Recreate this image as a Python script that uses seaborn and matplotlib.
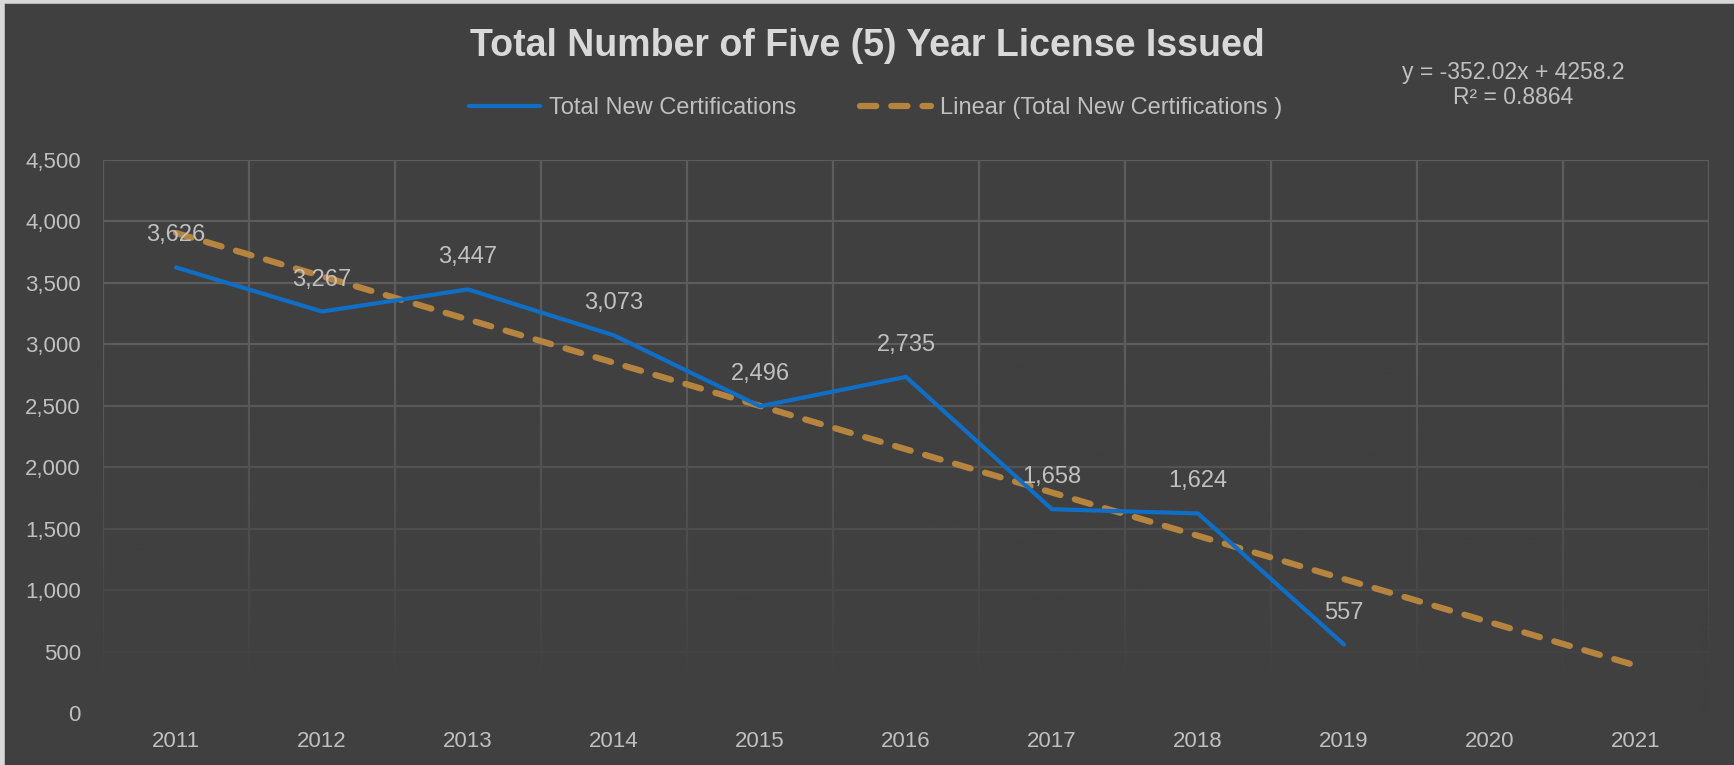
import matplotlib
matplotlib.use('Agg')
import matplotlib.pyplot as plt
import seaborn as sns
import numpy as np
import pandas as pd
from matplotlib.lines import Line2D
from matplotlib.ticker import FuncFormatter, MultipleLocator

# Data
years = [2011, 2012, 2013, 2014, 2015, 2016, 2017, 2018, 2019]
new_certs = [3626, 3267, 3447, 3073, 2496, 2735, 1658, 1624, 557]
trend_years = [2011, 2012, 2013, 2014, 2015, 2016, 2017, 2018, 2019, 2020, 2021]
trend_slope = -352.02
trend_intercept = 4258.2
r_squared = 0.8864

BG = '#404040'
GRID = '#5c5c5c'
TXT = '#c0c0c0'
BLUE = '#0f6fc6'
TAN = '#b5843e'

sns.set_theme(style='dark')
plt.rcParams['font.family'] = ['Liberation Sans', 'DejaVu Sans']

df = pd.DataFrame({'Year': years, 'Total': new_certs})
trend_df = pd.DataFrame({'Year': trend_years})
trend_df['Trend'] = trend_slope * (trend_df['Year'] - 2010) + trend_intercept

fig = plt.figure(figsize=(17.34, 7.65), dpi=100, facecolor=BG)
ax = fig.add_axes([103 / 1734, 1 - 713 / 765, (1709 - 103) / 1734, (713 - 160) / 765])
ax.set_facecolor(BG)

sns.lineplot(data=df, x='Year', y='Total', ax=ax, color=BLUE, linewidth=3,
             label='Total New Certifications', zorder=4)
sns.lineplot(data=trend_df, x='Year', y='Trend', ax=ax, color=TAN, linewidth=4.5,
             label='Linear (Total New Certifications )', zorder=3)
ax.lines[1].set_dashes([2.6, 2.4])
ax.lines[1].set_dash_capstyle('round')

ax.set_xticks(trend_years)
ax.xaxis.set_minor_locator(MultipleLocator(1, offset=0.5))
ax.yaxis.set_major_locator(MultipleLocator(500))
ax.yaxis.set_major_formatter(FuncFormatter(lambda v, p: f'{int(v):,}'))
ax.grid(True, which='major', axis='y', color=GRID, linewidth=1.6, zorder=0)
ax.grid(True, which='minor', axis='x', color=GRID, linewidth=1.6, zorder=0)
ax.set_axisbelow(True)

# fade gridlines toward the bottom like the original
grad = np.zeros((256, 1, 4))
rgb = matplotlib.colors.to_rgb(BG)
grad[..., 0], grad[..., 1], grad[..., 2] = rgb
alpha = np.clip(np.linspace(0, 1, 256) * 1.7 - 0.62, 0, 0.97)
grad[..., 3] = alpha[:, None]
ax.imshow(grad, extent=[0, 1, 0, 1], transform=ax.transAxes, aspect='auto',
          origin='upper', zorder=1, clip_on=False)
ax.set_xlim(2010.5, 2021.5)
ax.set_ylim(0, 4500)

ax.tick_params(axis='both', which='both', length=0, colors=TXT, labelsize=16)
ax.tick_params(axis='y', pad=16)
ax.tick_params(axis='x', pad=13)
for s in ax.spines.values():
    s.set_visible(False)
ax.set_xlabel('')
ax.set_ylabel('')

for x, y in zip(years, new_certs):
    ax.annotate(f'{y:,}', (x, y), xytext=(0, 23), textcoords='offset points',
                ha='center', va='center', fontsize=17, color=TXT, zorder=5)

leg = ax.legend(loc='center', bbox_to_anchor=(0.505, 1 - 108 / 765), bbox_transform=fig.transFigure,
                ncol=2, frameon=False, fontsize=17, handlelength=3, handletextpad=0.4,
                columnspacing=2.7)
for t in leg.get_texts():
    t.set_color(TXT)

fig.text(0.5, 1 - 46 / 765, 'Total Number of Five (5) Year License Issued', ha='center', va='center',
         fontsize=27, fontweight='bold', color='#d9d9d9')
fig.text(1513 / 1734, 1 - 85 / 765, f'y = {trend_slope}x + {trend_intercept}\nR² = {r_squared}',
         ha='center', va='center', fontsize=16.5, color=TXT, linespacing=1.15)

# light frame on the left and top edges
fig.add_artist(Line2D([0.001, 0.001], [0, 1], transform=fig.transFigure, color='#d9d9d9', linewidth=4))
fig.add_artist(Line2D([0, 1], [0.999, 0.999], transform=fig.transFigure, color='#d9d9d9', linewidth=4))

plt.savefig('out.png', dpi=100, facecolor=BG)
